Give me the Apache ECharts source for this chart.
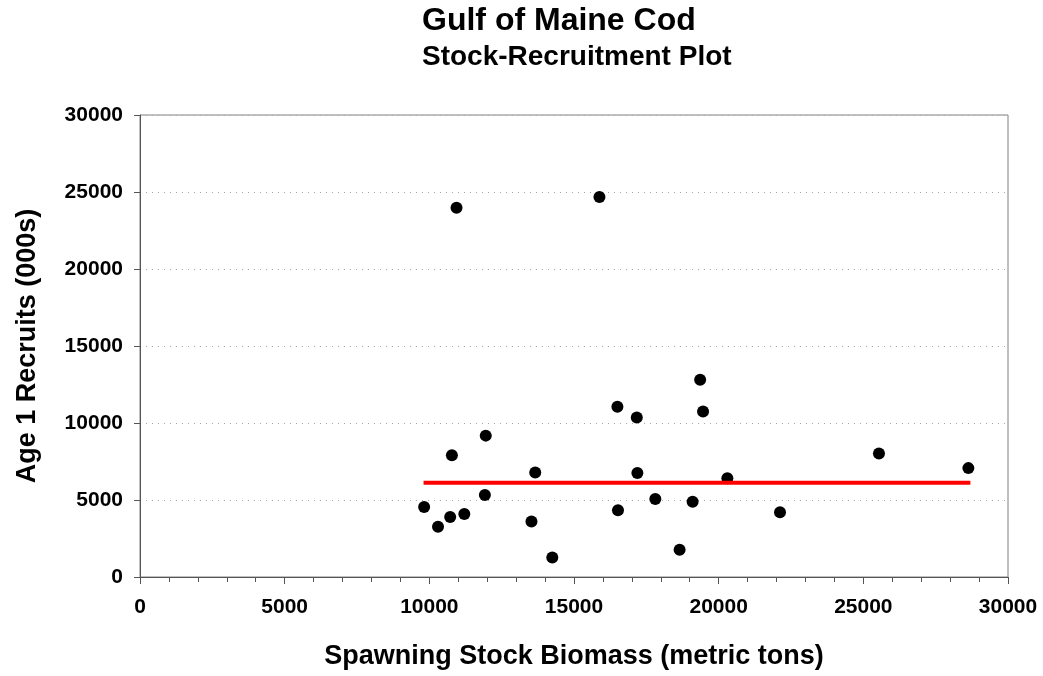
<!DOCTYPE html>
<html>
<head>
    <meta charset="utf-8">
    <title>Gulf of Maine Cod</title>
    <script src="https://cdn.jsdelivr.net/npm/echarts@6/dist/echarts.min.js"></script>
    <style>
        html, body { margin: 0; padding: 0; background: #fff; }
        #chart { width: 1043px; height: 676px; }
    </style>
</head>
<body>
<div id="chart"></div>
<script type="text/javascript">
    // spawning stock biomass (metric tons) and age 1 recruits (000s)
    var ssb = [9820, 10300, 10720, 10780, 10940, 11210, 11920, 11950, 13530, 13660, 14250, 15880, 16500,
        16520, 17170, 17190, 17810, 18650, 19100, 19360, 19460, 20300, 22120, 25540, 28630];
    var recruits = [4540, 3260, 3890, 7910, 23970, 4090, 5320, 9180, 3610, 6780, 1270, 24680, 11060,
        4340, 10350, 6760, 5060, 1770, 4880, 12810, 10740, 6420, 4210, 8020, 7070];
    // red reference line (median recruitment)
    var lineX = [9800, 28700];
    var lineY = [6120, 6120];

    var font = "'Liberation Sans', Arial, sans-serif";
    var myChart = echarts.init(document.getElementById('chart'));

    var points = ssb.map(function (v, i) { return [v, recruits[i]]; });
    var refLine = lineX.map(function (v, i) { return [v, lineY[i]]; });

    myChart.setOption({
        backgroundColor: '#fff',
        animation: false,
        title: [{
            text: 'Gulf of Maine Cod',
            left: 422, top: 5, padding: 0,
            textStyle: { fontFamily: font, fontSize: 32, fontWeight: 'bold', color: '#000' }
        }, {
            text: 'Stock-Recruitment Plot',
            left: 422, top: 43, padding: 0,
            textStyle: { fontFamily: font, fontSize: 28, fontWeight: 'bold', color: '#000' }
        }],
        grid: {
            left: 140, right: 35, top: 115, bottom: 99,
            show: true, borderColor: '#808080', borderWidth: 1
        },
        xAxis: {
            type: 'value', min: 0, max: 30000, interval: 5000,
            name: 'Spawning Stock Biomass (metric tons)',
            nameLocation: 'middle', nameGap: 66,
            nameTextStyle: { fontFamily: font, fontSize: 27, fontWeight: 'bold', color: '#000' },
            axisLine: { show: true, lineStyle: { color: '#555', width: 1 } },
            axisTick: { show: true, inside: false, length: 7, lineStyle: { color: '#555' } },
            minorTick: { show: true, splitNumber: 5, length: 5, lineStyle: { color: '#555' } },
            axisLabel: {
                margin: 20, fontFamily: font, fontSize: 21, fontWeight: 'bold', color: '#000',
                formatter: function (v) { return String(v); }
            },
            splitLine: { show: false }
        },
        yAxis: {
            type: 'value', min: 0, max: 30000, interval: 5000,
            name: 'Age 1 Recruits (000s)',
            nameLocation: 'middle', nameGap: 99,
            nameTextStyle: { fontFamily: font, fontSize: 27, fontWeight: 'bold', color: '#000' },
            axisLine: { show: true, lineStyle: { color: '#555', width: 1 } },
            axisTick: { show: true, inside: false, length: 6, lineStyle: { color: '#555' } },
            axisLabel: {
                margin: 17, fontFamily: font, fontSize: 21, fontWeight: 'bold', color: '#000',
                formatter: function (v) { return String(v); }
            },
            splitLine: { show: true, lineStyle: { color: '#aaa', width: 1, type: [1, 5] } }
        },
        series: [{
            type: 'scatter',
            data: points,
            symbol: 'circle',
            symbolSize: 12,
            itemStyle: { color: '#000', opacity: 1 },
            z: 3
        }, {
            type: 'line',
            data: refLine,
            symbol: 'none',
            lineStyle: { color: '#ff0000', width: 4 },
            z: 4
        }]
    });
</script>
</body>
</html>
